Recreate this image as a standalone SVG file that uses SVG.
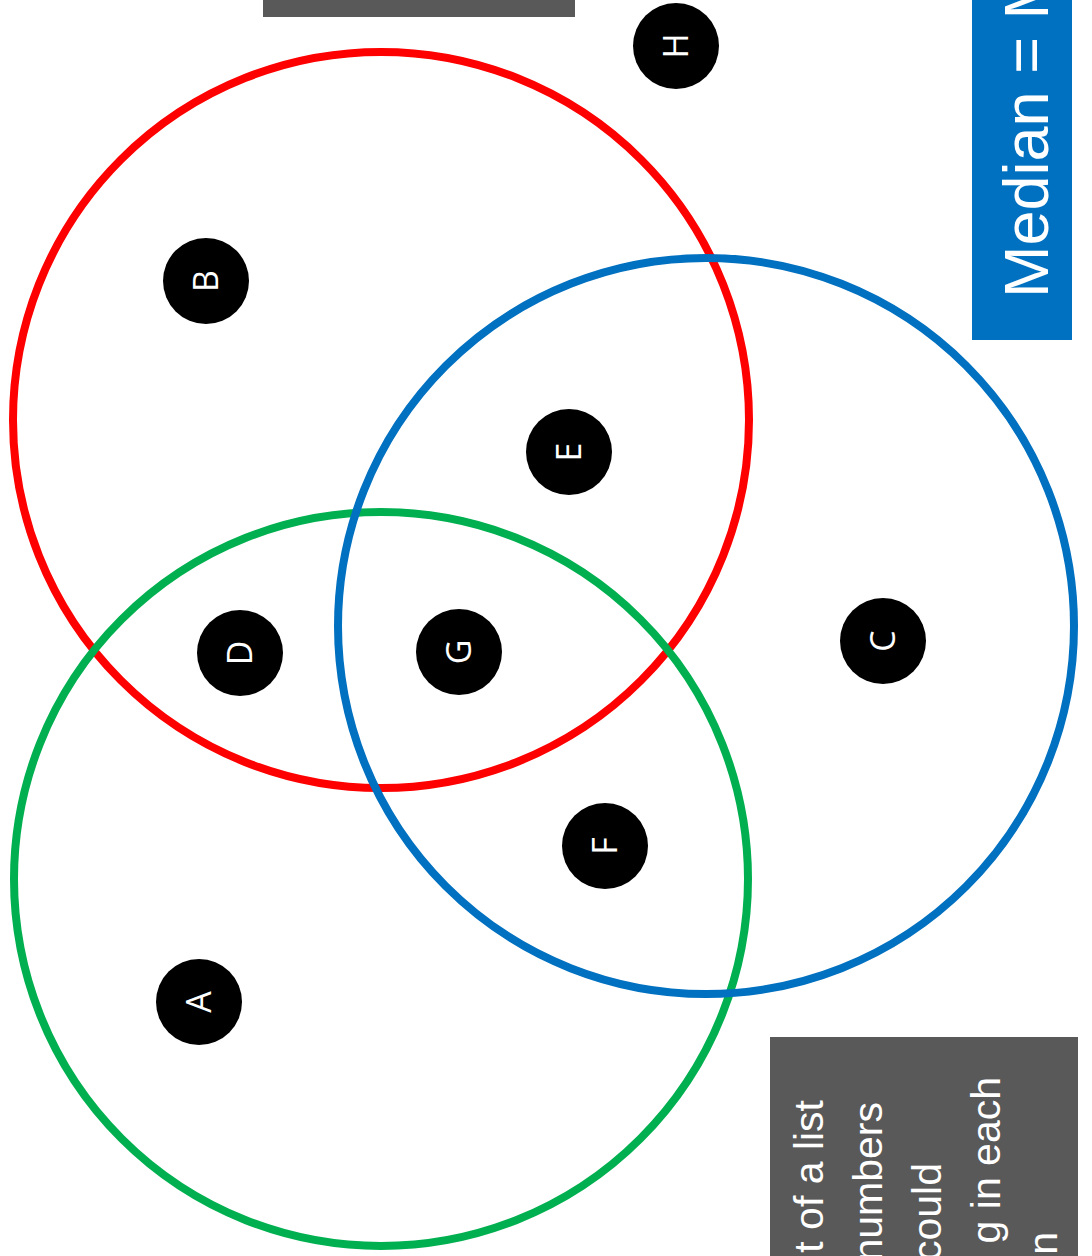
<svg xmlns="http://www.w3.org/2000/svg" width="1092" height="1256" viewBox="0 0 1092 1256">
  <style>
    .set { fill: none; stroke-width: 8; }
    .dot { fill: #000000; }
    .lbl { fill: #ffffff; font-family: "Open Sans", "Liberation Sans", sans-serif; font-size: 34px; text-anchor: middle; }
    .note { fill: #595959; }
    .note-text { fill: #ffffff; font-family: "Liberation Sans", Arial, sans-serif; font-size: 41px; text-anchor: end; }
    .title-text { fill: #ffffff; font-family: "Liberation Sans", Arial, sans-serif; font-size: 63px; }
  </style>
  <rect width="1092" height="1256" fill="#ffffff"/>

  <!-- header box (mostly outside the page) -->
  <rect class="note" x="263" y="-40" width="312" height="57"/>

  <!-- title banner, written bottom to top -->
  <g id="title">
    <rect x="972" y="-20" width="100" height="360" fill="#0070C0"/>
    <text class="title-text" transform="translate(1048,298) rotate(-90)">Median = M</text>
  </g>

  <!-- note box, written bottom to top -->
  <g id="note">
    <rect class="note" x="770" y="1037" width="308" height="240"/>
    <text class="note-text" transform="translate(823,1100) rotate(-90)">t of a list</text>
    <text class="note-text" transform="translate(882,1102) rotate(-90)">numbers</text>
    <text class="note-text" transform="translate(941,1163) rotate(-90)">could</text>
    <text class="note-text" transform="translate(1000,1077) rotate(-90)">g in each</text>
    <text class="note-text" transform="translate(1057,1232) rotate(-90)">n</text>
  </g>

  <!-- the three sets -->
  <g id="sets">
    <circle id="set-red" class="set" cx="381" cy="420" r="368" stroke="#FF0000"/>
    <circle id="set-green" class="set" cx="381" cy="879" r="367" stroke="#00B050"/>
    <circle id="set-blue" class="set" cx="706" cy="626" r="368" stroke="#0070C0"/>
  </g>

  <!-- no connectors in this figure -->
  <g id="connectors"/>

  <!-- labelled points, letters turned a quarter anticlockwise -->
  <g id="node-H" transform="translate(676,46)">
    <circle class="dot" r="43"/>
    <text class="lbl" transform="rotate(-90)" y="12">H</text>
  </g>
  <g id="node-B" transform="translate(206,281)">
    <circle class="dot" r="43"/>
    <text class="lbl" transform="rotate(-90)" y="12">B</text>
  </g>
  <g id="node-E" transform="translate(569,452)">
    <circle class="dot" r="43"/>
    <text class="lbl" transform="rotate(-90)" y="12">E</text>
  </g>
  <g id="node-D" transform="translate(240,653)">
    <circle class="dot" r="43"/>
    <text class="lbl" transform="rotate(-90)" y="12">D</text>
  </g>
  <g id="node-G" transform="translate(459,652)">
    <circle class="dot" r="43"/>
    <text class="lbl" transform="rotate(-90)" y="12">G</text>
  </g>
  <g id="node-C" transform="translate(883,641)">
    <circle class="dot" r="43"/>
    <text class="lbl" transform="rotate(-90)" y="12">C</text>
  </g>
  <g id="node-F" transform="translate(605,846)">
    <circle class="dot" r="43"/>
    <text class="lbl" transform="rotate(-90)" y="12">F</text>
  </g>
  <g id="node-A" transform="translate(199,1002)">
    <circle class="dot" r="43"/>
    <text class="lbl" transform="rotate(-90)" y="12">A</text>
  </g>
</svg>
